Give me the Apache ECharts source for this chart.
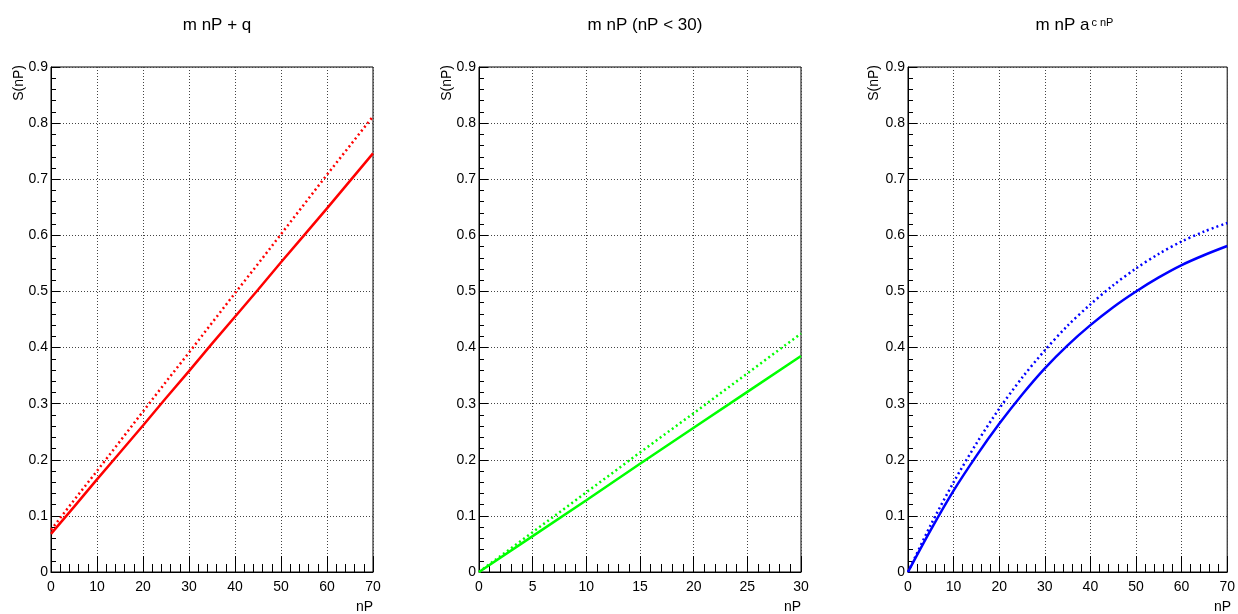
<!DOCTYPE html>
<html>
<head>
<meta charset="utf-8">
<script src="https://cdn.jsdelivr.net/npm/echarts@6/dist/echarts.min.js"></script>
<style>
html,body{margin:0;padding:0;background:#fff;}
#chart{width:1238px;height:614px;}
</style>
</head>
<body>
<div id="chart"></div>
<script>
// ---- data ----
const panelTitles = ['m nP + q', 'm nP (nP < 30)', '{m|m nP a}{s|c nP}'];
const yAxisTitle = 'S(nP)';
const xAxisTitle = 'nP';

const nP70 = [0, 5, 10, 15, 20, 25, 30, 35, 40, 45, 50, 55, 60, 65, 70];
const nP30 = [0, 5, 10, 15, 20, 25, 30];

// panel 1: m nP + q (red)
const redSolid  = [0.068, 0.116, 0.165, 0.213, 0.261, 0.310, 0.358, 0.407, 0.455, 0.503, 0.552, 0.600, 0.648, 0.697, 0.746];
const redDotted = [0.075, 0.128, 0.180, 0.233, 0.286, 0.339, 0.391, 0.444, 0.497, 0.549, 0.602, 0.655, 0.708, 0.760, 0.812];

// panel 2: m nP (nP < 30) (green)
const greenSolid  = [0.000, 0.064, 0.128, 0.193, 0.257, 0.321, 0.385];
const greenDotted = [0.000, 0.071, 0.142, 0.213, 0.283, 0.354, 0.425];

// panel 3: m nP a^(c nP) (blue)
const blueSolid  = [0.000, 0.075, 0.145, 0.207, 0.264, 0.316, 0.363, 0.404, 0.440, 0.472, 0.500, 0.525, 0.547, 0.565, 0.581];
const blueDotted = [0.000, 0.084, 0.160, 0.229, 0.291, 0.346, 0.395, 0.439, 0.477, 0.511, 0.541, 0.567, 0.589, 0.607, 0.622];

const yTicks = {min: 0, max: 0.9, interval: 0.1};
const xRanges = [{min: 0, max: 70, interval: 10}, {min: 0, max: 30, interval: 5}, {min: 0, max: 70, interval: 10}];

// ---- layout ----
const FONT = '"Liberation Sans", Arial, Helvetica, sans-serif';
const grids = [
  {left: 51, top: 67, width: 322, height: 505},
  {left: 479, top: 67, width: 322, height: 505},
  {left: 908, top: 67, width: 323, height: 505}
];
const yTitleX = [19, 447, 874];

function pairs(xs, ys) { return xs.map((x, i) => [x, ys[i]]); }

const option = {
  backgroundColor: '#fff',
  animation: false,
  title: grids.map((g, i) => ({
    text: panelTitles[i],
    left: g.left + g.width / 2,
    top: 12,
    textAlign: 'center',
    textStyle: {
      fontFamily: FONT, fontSize: 17, fontWeight: 'normal', color: '#000',
      rich: {
        m: {fontFamily: FONT, fontSize: 17, color: '#000', verticalAlign: 'bottom'},
        s: {fontFamily: FONT, fontSize: 11, color: '#000', verticalAlign: 'top', padding: [0, 0, 0, 2]}
      }
    }
  })),
  grid: grids.map(g => Object.assign({show: true, borderColor: '#000', borderWidth: 1, backgroundColor: 'transparent'}, g)),
  xAxis: xRanges.map((r, i) => ({
    type: 'value', gridIndex: i, min: r.min, max: r.max, interval: r.interval,
    axisLine: {show: true, lineStyle: {color: '#000', width: 1}},
    axisTick: {show: true, inside: true, length: 16, lineStyle: {color: '#000', width: 1}},
    minorTick: {show: true, splitNumber: 5, length: 8, lineStyle: {color: '#000', width: 1}},
    splitLine: {show: true, lineStyle: {color: '#444', type: [1, 2], width: 1}},
    axisLabel: {fontFamily: FONT, fontSize: 14, color: '#000', margin: 8, showMinLabel: true, showMaxLabel: true}
  })),
  yAxis: grids.map((g, i) => ({
    type: 'value', gridIndex: i, min: yTicks.min, max: yTicks.max, interval: yTicks.interval,
    axisLine: {show: true, lineStyle: {color: '#000', width: 1}},
    axisTick: {show: true, inside: true, length: 9, lineStyle: {color: '#000', width: 1}},
    minorTick: {show: true, splitNumber: 5, length: 5, lineStyle: {color: '#000', width: 1}},
    splitLine: {show: true, lineStyle: {color: '#444', type: [1, 2], width: 1}},
    axisLabel: {fontFamily: FONT, fontSize: 14, color: '#000', margin: 3,
      formatter: v => String(Math.round(v * 10) / 10)}
  })),
  graphic: grids.flatMap((g, i) => [
    {type: 'text', x: yTitleX[i], y: 65, rotation: Math.PI / 2,
     style: {text: yAxisTitle, font: '14px ' + FONT, fill: '#000', align: 'right', verticalAlign: 'middle'}},
    {type: 'text', x: g.left + g.width, y: 607,
     style: {text: xAxisTitle, font: '14px ' + FONT, fill: '#000', align: 'right', verticalAlign: 'middle'}}
  ]),
  series: [
    {type: 'line', xAxisIndex: 0, yAxisIndex: 0, data: pairs(nP70, redSolid), showSymbol: false,
     lineStyle: {color: '#ff0000', width: 2.5}},
    {type: 'line', xAxisIndex: 0, yAxisIndex: 0, data: pairs(nP70, redDotted), showSymbol: false,
     lineStyle: {color: '#ff0000', width: 2.5, type: [2, 3]}},
    {type: 'line', xAxisIndex: 1, yAxisIndex: 1, data: pairs(nP30, greenSolid), showSymbol: false,
     lineStyle: {color: '#00ff00', width: 2.5}},
    {type: 'line', xAxisIndex: 1, yAxisIndex: 1, data: pairs(nP30, greenDotted), showSymbol: false,
     lineStyle: {color: '#00ff00', width: 2.5, type: [2, 3]}},
    {type: 'line', xAxisIndex: 2, yAxisIndex: 2, data: pairs(nP70, blueSolid), showSymbol: false, smooth: 0.3,
     lineStyle: {color: '#0000ff', width: 2.5}},
    {type: 'line', xAxisIndex: 2, yAxisIndex: 2, data: pairs(nP70, blueDotted), showSymbol: false, smooth: 0.3,
     lineStyle: {color: '#0000ff', width: 2.5, type: [2, 3]}}
  ]
};

const chart = echarts.init(document.getElementById('chart'), null, {renderer: 'canvas'});
chart.setOption(option);
</script>
</body>
</html>
